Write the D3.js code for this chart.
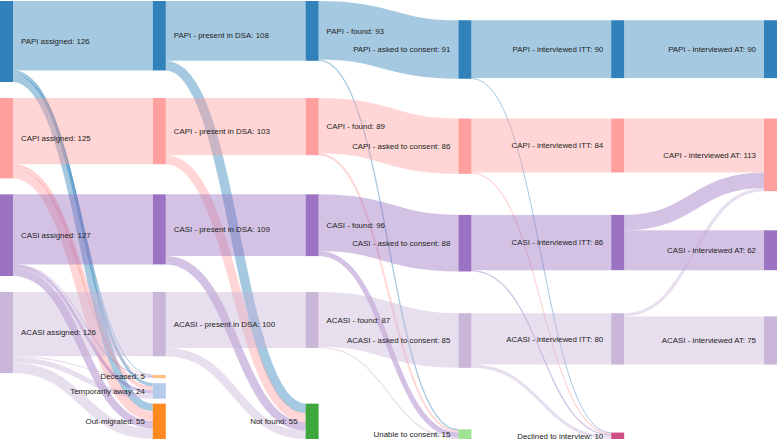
<!DOCTYPE html>
<html><head><meta charset="utf-8">
<script src="https://cdn.jsdelivr.net/npm/d3@7"></script>
<style>
body{margin:0;background:#fff}
svg text{font-family:"Liberation Sans",Arial,Helvetica,sans-serif;font-size:7.9px;fill:#222}
</style>
</head><body><svg id="chart" width="778" height="440"></svg>
<script>
// ---------------- data ----------------
const modes = ["PAPI", "CAPI", "CASI", "ACASI"];
const assigned = [126, 125, 127, 126];
const presentInDSA = [108, 103, 109, 100];
const deceased = [1, 1, 1, 2];
const temporarilyAway = [5, 6, 5, 8];
const outMigrated = [12, 15, 12, 16];
const found = [93, 89, 96, 87];
const notFound = [15, 14, 13, 13];
const askedToConsent = [91, 86, 88, 85];
const unableToConsent = [2, 3, 8, 2];
const interviewedITT = [90, 84, 86, 80];
const declinedToInterview = [1, 2, 2, 5];
const interviewedAT = [90, 113, 62, 75];
// rows: ITT mode, columns: AT mode
const ittToAT = [[90, 0, 0, 0], [0, 84, 0, 0], [0, 24, 62, 0], [0, 5, 0, 75]];

const palette = {
  PAPI: "#1f77b4", CAPI: "#ff9896", CASI: "#9467bd", ACASI: "#c5b0d5",
  Deceased: "#ffbb78", Temporarily: "#aec7e8", Out: "#ff7f0e",
  Not: "#2ca02c", Unable: "#98df8a", Declined: "#c9407a"
};

// ---------------- graph ----------------
const nodes = [], links = [], byKey = {};
function addNode(key, label, col, colorKey, row) {
  const n = {key, label, col, colorKey, row, sink: row < 0, sourceLinks: [], targetLinks: []};
  nodes.push(n); byKey[key] = n; return n;
}
let sinkCount = 0;
const addSink = (key, label, col, colorKey) => addNode(key, label, col, colorKey, -1 - (sinkCount++));
modes.forEach((m, r) => addNode(m + "|0", `${m} assigned`, 0, m, r));
modes.forEach((m, r) => addNode(m + "|1", `${m} - present in DSA`, 1, m, r));
addSink("Deceased", "Deceased", 1, "Deceased");
addSink("Temp", "Temporarily away", 1, "Temporarily");
addSink("Out", "Out-migrated", 1, "Out");
modes.forEach((m, r) => addNode(m + "|2", `${m} - found`, 2, m, r));
addSink("NotFound", "Not found", 2, "Not");
modes.forEach((m, r) => addNode(m + "|3", `${m} - asked to consent`, 3, m, r));
addSink("Unable", "Unable to consent", 3, "Unable");
modes.forEach((m, r) => addNode(m + "|4", `${m} - interviewed ITT`, 4, m, r));
addSink("Declined", "Declined to interview", 4, "Declined");
modes.forEach((m, r) => addNode(m + "|5", `${m} - interviewed AT`, 5, m, r));

function link(s, t, v) {
  if (v > 0) {
    const l = {source: byKey[s], target: byKey[t], value: v, index: links.length};
    links.push(l); l.source.sourceLinks.push(l); l.target.targetLinks.push(l);
  }
}
modes.forEach((m, i) => {
  link(m + "|0", m + "|1", presentInDSA[i]);
  link(m + "|0", "Deceased", deceased[i]);
  link(m + "|0", "Temp", temporarilyAway[i]);
  link(m + "|0", "Out", outMigrated[i]);
  link(m + "|1", m + "|2", found[i]);
  link(m + "|1", "NotFound", notFound[i]);
  link(m + "|2", m + "|3", askedToConsent[i]);
  link(m + "|2", "Unable", unableToConsent[i]);
  link(m + "|3", m + "|4", interviewedITT[i]);
  link(m + "|3", "Declined", declinedToInterview[i]);
  modes.forEach((m2, j) => link(m + "|4", m2 + "|5", ittToAT[i][j]));
});

// ---------------- layout ----------------
const W = 777, H = 438, TOPM = 1, NW = 13, PAD = 5, PADK = 19, PADM = 16;
// how mode nodes of each column are placed: stacked rows, straight continuation of the
// main incoming flow, or centred in the row band of the first column
const columnAlign = ["stack", "straight", "straight", "center", "straight", "straight"];
const nCols = columnAlign.length;
const xScale = d3.scaleLinear().domain([0, nCols - 1]).range([0, W - NW]);
nodes.forEach(n => {
  n.value = Math.max(d3.sum(n.sourceLinks, l => l.value), d3.sum(n.targetLinks, l => l.value));
  n.x0 = xScale(n.col); n.x1 = n.x0 + NW;
  n.order = n.sink ? 100 - n.row : n.row;
});
const columns = d3.range(nCols).map(c => nodes.filter(n => n.col === c));
const ky = d3.min(columns, c => (H - (c.length - 1) * PADK) / d3.sum(c, n => n.value));
const yScale = d3.scaleLinear().domain([0, 1]).range([0, ky]);
links.forEach(l => l.width = yScale(l.value));
nodes.forEach(n => {
  n.h = yScale(n.value);
  n.sourceLinks.sort((a, b) => a.target.order - b.target.order);
  n.targetLinks.sort((a, b) => a.source.order - b.source.order);
});
const offsetIn = (list, l) => d3.sum(list.slice(0, list.indexOf(l)), d => d.width);
const bands = [];
columns.forEach((col, c) => {
  const mainNodes = col.filter(n => !n.sink);
  if (columnAlign[c] === "stack") {
    let y = 0;
    mainNodes.forEach(n => { n.y0 = y; y += n.h + PADM; bands[n.row] = [n.y0, y]; });
  } else {
    mainNodes.forEach(n => {
      if (columnAlign[c] === "center") {
        n.y0 = d3.mean(bands[n.row]) - n.h / 2;
      } else {
        const main = d3.greatest(n.targetLinks, l => l.value);
        n.y0 = main.source.y0 + offsetIn(main.source.sourceLinks, main) - offsetIn(n.targetLinks, main);
      }
    });
  }
  // terminal categories stacked at the bottom of their column
  let yb = H;
  col.filter(n => n.sink).reverse().forEach(n => { n.y0 = yb - n.h; yb = n.y0 - PAD; });
});
nodes.forEach(n => n.y1 = n.y0 + n.h);
nodes.forEach(n => {
  n.sourceLinks.sort((a, b) => a.target.y0 - b.target.y0);
  n.targetLinks.sort((a, b) => a.source.y0 - b.source.y0);
  let a = n.y0, b = n.y0;
  for (const l of n.sourceLinks) { l.y0 = a + l.width / 2; a += l.width; }
  for (const l of n.targetLinks) { l.y1 = b + l.width / 2; b += l.width; }
});

// ---------------- draw ----------------
const svg = d3.select("#chart");
const g = svg.append("g").attr("transform", `translate(0,${TOPM})`);
const color = n => palette[n.colorKey];
const linkGen = d3.linkHorizontal().source(d => [d.source.x1, d.y0]).target(d => [d.target.x0, d.y1]);

g.append("g").attr("fill", "none")
  .selectAll("path").data(links).join("path")
  .attr("d", linkGen)
  .attr("stroke", d => color(d.source))
  .attr("stroke-opacity", 0.4)
  .attr("stroke-width", d => Math.max(1, d.width));

const node = g.append("g").selectAll("g").data(nodes).join("g")
  .attr("transform", d => `translate(${d.x0},${d.y0})`);
node.append("rect")
  .attr("width", NW).attr("height", d => Math.max(1, d.h))
  .attr("fill", d => color(d))
  .attr("fill-opacity", 0.92);
node.append("text")
  .attr("dy", "0.35em")
  .attr("y", d => d.h / 2)
  .each(function (d) {
    const left = d.x0 > W / 2 || d.sourceLinks.length === 0;
    d3.select(this)
      .attr("x", left ? -8 : NW + 8)
      .attr("text-anchor", left ? "end" : "start");
  })
  .text(d => `${d.label}: ${d.value}`);
</script>
</body></html>
